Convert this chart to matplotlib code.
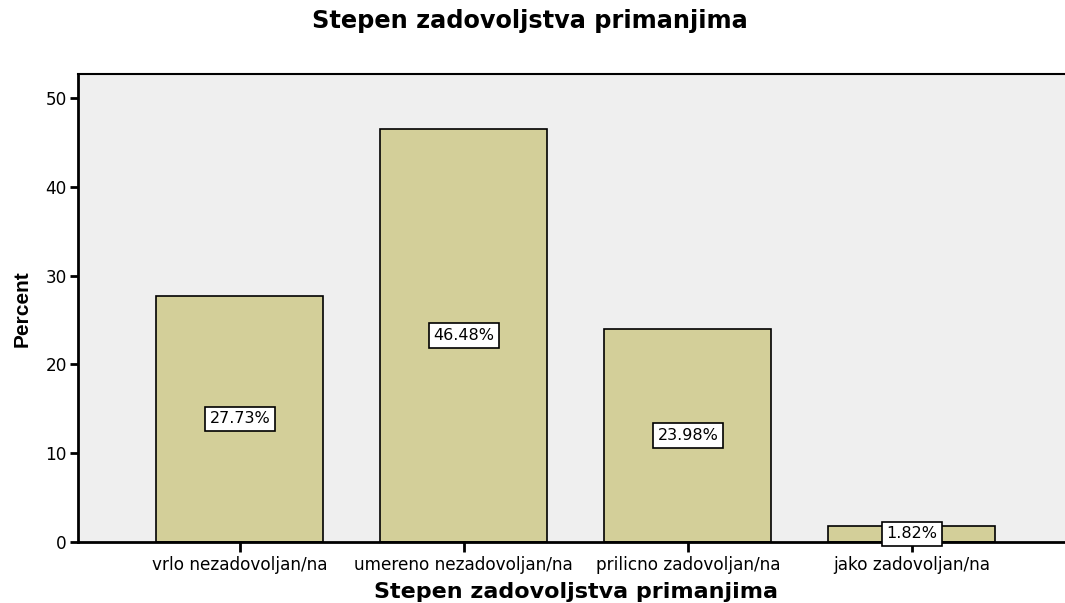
import matplotlib.pyplot as plt
import numpy as np

categories = ["vrlo nezadovoljan/na", "umereno nezadovoljan/na",
              "prilicno zadovoljan/na", "jako zadovoljan/na"]
percent = [27.73, 46.48, 23.98, 1.82]
yticks = [0, 10, 20, 30, 40, 50]

plt.rcParams['font.family'] = ['DejaVu Sans']

fig = plt.figure(figsize=(10.65, 6.03), dpi=100)
ax = fig.add_axes([0.0732, 0.1012, 0.935, 0.776])
ax.set_facecolor('#efefef')

x = np.arange(len(categories))
ax.bar(x, percent, width=0.746, color='#d3cf99', edgecolor='black', linewidth=1.2, zorder=2)

# labels in the middle of each bar
for xi, v in zip(x, percent):
    ax.text(xi, v / 2, "%.2f%%" % v, ha='center', va='center', fontsize=11.5, zorder=3,
            bbox=dict(boxstyle='square,pad=0.3', fc='white', ec='black', lw=1.2))

ax.set_xlim(-0.723, 3.723)
ax.set_ylim(0, 52.7)
ax.set_yticks(yticks)
ax.set_xticks(x)
ax.set_xticklabels(categories, fontsize=12.2)
ax.tick_params(axis='y', labelsize=12.2, length=6, width=2, pad=2)
ax.tick_params(axis='x', length=7, width=2, pad=3)

for s in ['left', 'bottom']:
    ax.spines[s].set_linewidth(2)
ax.spines['top'].set_linewidth(1.5)
ax.spines['right'].set_visible(False)

fig.text(0.498, 0.966, "Stepen zadovoljstva primanjima", ha='center', va='center',
         fontsize=17.3, fontweight='bold')
fig.text(0.541, 0.019, "Stepen zadovoljstva primanjima", ha='center', va='center',
         fontsize=16, fontweight='bold')
fig.text(0.021, 0.488, "Percent", rotation=90, ha='center', va='center',
         fontsize=15, fontweight='bold', family=['Liberation Sans', 'DejaVu Sans'])

fig.savefig("out.png", dpi=100)
